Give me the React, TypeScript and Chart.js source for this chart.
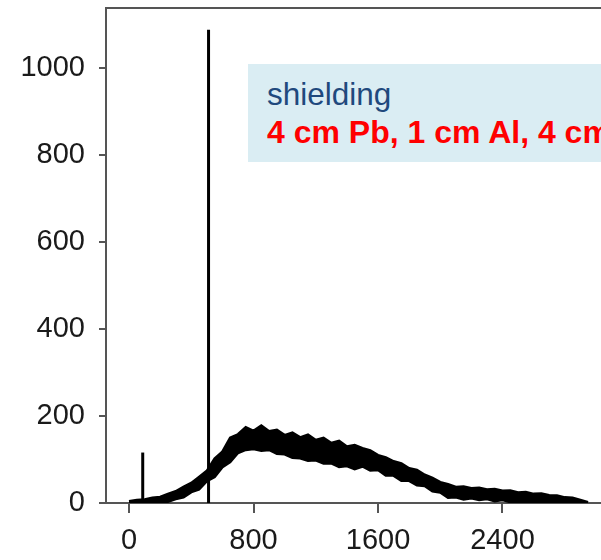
import React, { useEffect, useRef } from "react";
import { Chart, registerables } from "chart.js";

Chart.register(...registerables);

// Energy channels (keV) at which the noisy continuum band was read
const channels = [
  0, 50, 100, 150, 200, 250, 300, 350, 400, 450,
  500, 550, 600, 650, 700, 750, 800, 850, 900, 950,
  1000, 1050, 1100, 1150, 1200, 1250, 1300, 1350, 1400, 1450,
  1500, 1550, 1600, 1650, 1700, 1750, 1800, 1850, 1900, 1950,
  2000, 2050, 2100, 2150, 2200, 2250, 2300, 2350, 2400, 2450,
  2500, 2550, 2600, 2650, 2700, 2750, 2800, 2850, 2900, 2950,
];
// Upper edge of the noisy spectrum band (counts)
const upperCounts = [
  4, 7, 8, 12, 14, 21, 27, 37, 46, 60,
  74, 102, 118, 150, 158, 174, 166, 178, 165, 168,
  156, 162, 151, 157, 145, 150, 138, 143, 130, 133,
  126, 121, 110, 105, 96, 91, 80, 76, 65, 58,
  48, 43, 37, 38, 34, 35, 31, 32, 28, 29,
  24, 25, 21, 22, 18, 17, 13, 12, 7, 2,
];
// Lower edge of the noisy spectrum band (counts)
const lowerCounts = [
  0, 0, 0, 1, 1, 3, 9, 13, 25, 31,
  50, 60, 82, 94, 115, 122, 124, 120, 122, 113,
  112, 104, 103, 97, 98, 91, 91, 83, 85, 78,
  84, 75, 76, 63, 63, 51, 51, 41, 39, 27,
  24, 12, 13, 8, 11, 7, 9, 4, 7, 2,
  3, 0, 1, 0, 0, 0, 0, 0, 0, 0,
];
// Sharp lines: Pb X-ray and 511 keV annihilation
const lineEnergies = [88, 511];
const lineCounts = [116, 1088];

const xTicks = [0, 800, 1600, 2400];
const yTicks = [0, 200, 400, 600, 800, 1000];

const FONT = "'Liberation Sans', Arial, Helvetica, sans-serif";
const AXIS = "#555555";

const topFrame = {
  id: "topFrame",
  afterDraw(chart: any) {
    const { ctx, chartArea } = chart;
    ctx.save();
    ctx.strokeStyle = AXIS;
    ctx.lineWidth = 2;
    ctx.beginPath();
    ctx.moveTo(chartArea.left - 1, chartArea.top);
    ctx.lineTo(chartArea.right, chartArea.top);
    ctx.stroke();
    ctx.restore();
  },
};

export default function App() {
  const ref = useRef<HTMLCanvasElement | null>(null);

  useEffect(() => {
    if (!ref.current) return;
    const band = (vals: number[]) => channels.map((c, i) => ({ x: c, y: vals[i] }));
    const spikes = lineEnergies.map((e, i) => ({
      data: [
        { x: e, y: 0 },
        { x: e, y: lineCounts[i] },
      ],
      borderColor: "#000",
      borderWidth: 3,
      pointRadius: 0,
      fill: false,
    }));
    const chart = new Chart(ref.current, {
      type: "line",
      data: {
        datasets: [
          {
            data: band(upperCounts),
            borderColor: "#000",
            borderWidth: 2.5,
            backgroundColor: "#000",
            pointRadius: 0,
            fill: "+1",
          },
          {
            data: band(lowerCounts),
            borderColor: "#000",
            borderWidth: 2.5,
            pointRadius: 0,
            fill: false,
          },
          ...spikes,
        ] as any,
      },
      options: {
        animation: false,
        responsive: false,
        devicePixelRatio: 1,
        layout: { padding: { top: 8, right: 0, left: 0, bottom: 0 } },
        plugins: { legend: { display: false }, tooltip: { enabled: false }, title: { display: false } },
        scales: {
          x: {
            type: "linear",
            min: -148,
            max: 3033,
            afterBuildTicks: (s: any) => {
              s.ticks = xTicks.map((v) => ({ value: v }));
            },
            afterFit: (s: any) => {
              s.height = 57;
              s.paddingLeft = 0;
              s.paddingRight = 0;
            },
            grid: { drawOnChartArea: false, drawTicks: true, tickLength: 10, color: AXIS, lineWidth: 2 },
            border: { color: AXIS, width: 2 },
            ticks: {
              font: { family: FONT, size: 29 },
              color: "#1a1a1a",
              padding: 11,
              maxRotation: 0,
              autoSkip: false,
              callback: (v: any) => String(v),
            },
          },
          y: {
            type: "linear",
            min: 0,
            max: 1138,
            afterBuildTicks: (s: any) => {
              s.ticks = yTicks.map((v) => ({ value: v }));
            },
            afterFit: (s: any) => {
              s.width = 106;
              s.paddingTop = 0;
              s.paddingBottom = 0;
            },
            grid: { drawOnChartArea: false, drawTicks: true, tickLength: 7, color: AXIS, lineWidth: 2 },
            border: { color: AXIS, width: 2 },
            ticks: {
              font: { family: FONT, size: 29 },
              color: "#1a1a1a",
              padding: 14,
              autoSkip: false,
              callback: (v: any) => String(v),
            },
          },
        },
      } as any,
      plugins: [topFrame],
    });
    return () => chart.destroy();
  }, []);

  return (
    <div
      style={{
        position: "fixed",
        left: 0,
        top: 0,
        width: 601,
        height: 560,
        overflow: "hidden",
        background: "#fff",
      }}
    >
      <canvas ref={ref} width={601} height={560} style={{ display: "block", width: 601, height: 560 }} />
      <div
        style={{
          position: "absolute",
          left: 248,
          top: 64,
          width: 353,
          height: 98,
          boxSizing: "border-box",
          paddingTop: 11,
          paddingLeft: 19,
          background: "#DAEDF3",
          fontFamily: FONT,
          fontSize: 31.5,
          lineHeight: "38px",
          whiteSpace: "nowrap",
          overflow: "hidden",
        }}
      >
        <div style={{ color: "#1F497D" }}>shielding</div>
        <div style={{ color: "#FF0000", fontWeight: "bold", fontSize: 32 }}>4 cm Pb, 1 cm Al, 4 cm</div>
      </div>
    </div>
  );
}
